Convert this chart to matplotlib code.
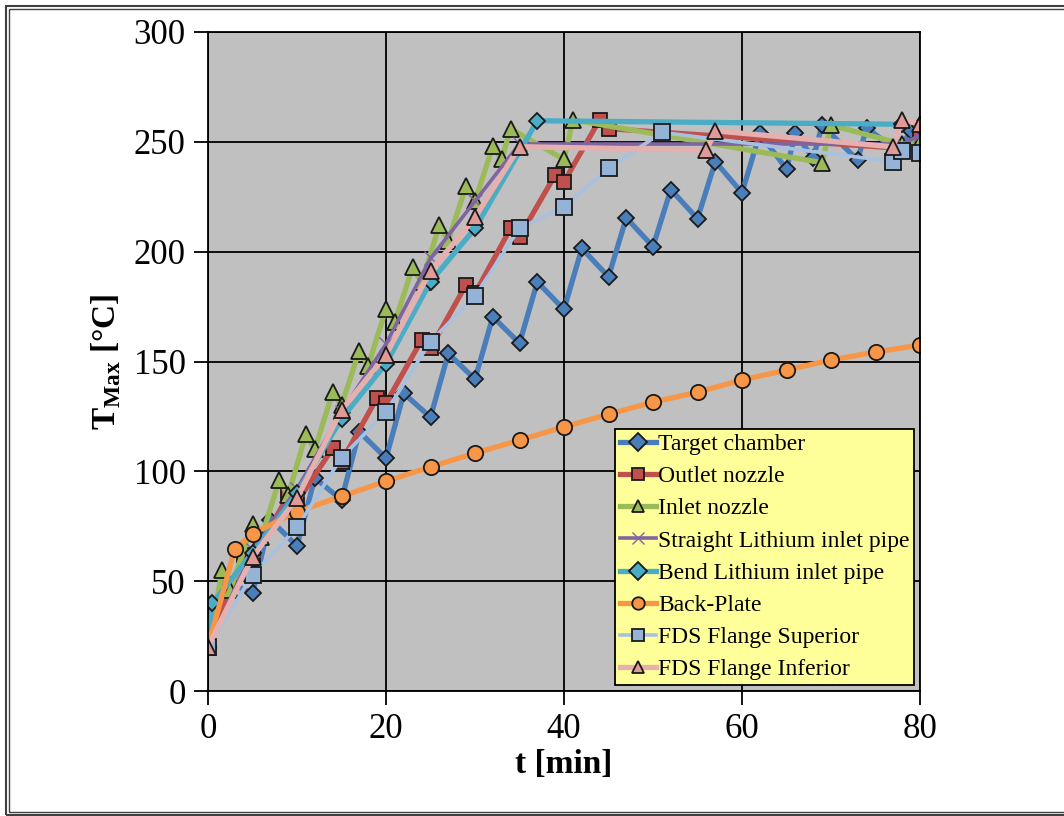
import numpy as np
import matplotlib.pyplot as plt
from matplotlib.patches import Rectangle

plt.rcParams['font.family'] = ['Liberation Serif', 'DejaVu Serif']
plt.rcParams['mathtext.fontset'] = 'custom'
plt.rcParams['mathtext.rm'] = 'Liberation Serif'
plt.rcParams['mathtext.bf'] = 'Liberation Serif:bold'

# --- data ---
target_t = [0, 2, 5, 7, 10, 12, 15, 17, 20, 22, 25, 27, 30, 32, 35, 37, 40, 42, 45, 47,
            50, 52, 55, 57, 60, 62, 65, 66, 68, 69, 73, 74, 77.5, 79, 80]
target_T = [20, 50, 44.5, 78, 66, 97, 87, 118, 106, 135.5, 124.6, 153.7, 141.9, 170.4, 158.3,
            186.2, 173.7, 201.5, 188.6, 215.4, 202.3, 228.3, 215, 241, 226.8, 253.8, 237.6,
            253.8, 242.5, 257.6, 241.7, 256.5, 245.5, 255, 250]

outlet_t = [0, 4, 5, 9, 10, 14, 15, 19, 20, 24, 25, 29, 30, 34, 35, 39, 40, 44, 45, 78, 80]
outlet_T = [20, 62, 60, 89, 86, 110.5, 104.4, 133.5, 131, 159.8, 156, 185, 181, 210.6, 206.8,
            234.9, 231.8, 260, 256, 247, 252]

inlet_t = [0, 1.6, 2.5, 5, 6, 8, 9, 11, 12, 14, 15, 17, 18, 20, 21, 23, 24, 26, 27, 29, 30,
           32, 33, 34, 40, 41, 69, 70, 78, 80]
inlet_T = [20, 55, 46, 76, 70, 96, 89, 117, 110, 136, 130, 155, 148, 174, 168, 193, 186, 212,
           205, 230, 223, 248, 242, 256, 242, 260, 240.5, 257.6, 249, 250]

straight_t = [0, 5, 10, 15, 20, 25, 30, 35, 78, 80]
straight_T = [20, 64, 92, 127, 158, 197, 223, 249, 249, 253]

bend_t = [0, 0.5, 5, 10, 15, 20, 25, 30, 37, 78, 80]
bend_T = [20, 40, 63, 90, 124, 149, 186.3, 210.6, 259.6, 258, 257]

back_t = [0, 3, 5, 10, 15, 20, 25, 30, 35, 40, 45, 50, 55, 60, 65, 70, 75, 80]
back_T = [20, 64.5, 71.6, 81.6, 88.6, 95.5, 102, 108.3, 114.2, 120.2, 126, 131.5, 136,
          141.6, 146.1, 150.7, 154.3, 157.5]

sup_t = [0, 5, 10, 15, 20, 25, 30, 35, 40, 45, 51, 77, 78, 80]
sup_T = [20, 52.8, 74.5, 106.2, 127.1, 159, 179.8, 210.6, 220.4, 237.9, 254.3, 241, 245.8, 244.7]

inf_t = [0, 5, 10, 15, 20, 25, 30, 35, 56, 57, 77, 78, 80]
inf_T = [20, 61, 87.7, 127.9, 152.9, 191.2, 215.6, 247.8, 246.2, 255, 247.7, 260, 258]

labels = ['Target chamber', 'Outlet nozzle', 'Inlet nozzle', 'Straight Lithium inlet pipe',
          'Bend Lithium inlet pipe', 'Back-Plate', 'FDS Flange Superior', 'FDS Flange Inferior']

fig = plt.figure(figsize=(10.64, 8.16), dpi=100)
ax = fig.add_axes([208 / 1064, 1 - 691 / 816, 712 / 1064, 659 / 816])
ax.set_facecolor('#C0C0C0')

ms = 10
lw = 3.8
ax.plot(target_t, target_T, '-D', color='#4A7EBB', lw=lw, ms=8.5, mfc='#4A7EBB', mec='#1a1a1a', mew=1.3, label=labels[0])
ax.plot(outlet_t, outlet_T, '-s', color='#C0504D', lw=lw, ms=ms, mfc='#C0504D', mec='#1a1a1a', mew=1.3, label=labels[1])
ax.plot(inlet_t, inlet_T, '-^', color='#9BBB59', lw=lw, ms=ms + 1, mfc='#9BBB59', mec='#1a1a1a', mew=1.3, label=labels[2])
ax.plot(straight_t, straight_T, '-x', color='#8064A2', lw=2.6, ms=ms, mec='#8064A2', mew=1.0, label=labels[3])
ax.plot(bend_t, bend_T, '-D', color='#4BACC6', lw=lw, ms=8.5, mfc='#4BACC6', mec='#1a1a1a', mew=1.3, label=labels[4])
ax.plot(back_t, back_T, '-o', color='#F79646', lw=lw, ms=ms + 1, mfc='#F79646', mec='#1a1a1a', mew=1.3, label=labels[5])
ax.plot(sup_t, sup_T, '-s', color='#A9C1E0', lw=2.6, ms=ms + 1, mfc='#95B3D7', mec='#1a1a1a', mew=1.3, label=labels[6])
ax.plot(inf_t, inf_T, '-^', color='#E6B0AF', lw=lw, ms=ms + 1, mfc='#E09A98', mec='#1a1a1a', mew=1.3, label=labels[7])

ax.set_xlim(0, 80)
ax.set_ylim(0, 300)
ax.set_xticks(np.arange(0, 81, 20))
ax.set_yticks(np.arange(0, 301, 50))
ax.grid(True, color='black', lw=1.3)
ax.set_axisbelow(True)
for s in ax.spines.values():
    s.set_linewidth(1.3)
ax.tick_params(direction='out', length=10, width=1.3, labelsize=25, pad=6)
ax.set_xlabel('t [min]', fontsize=24, fontweight='bold', labelpad=2)
ax.set_ylabel(r'T$_{\mathbf{Max}}$ [°C]', fontsize=24, fontweight='bold', labelpad=8)

leg = ax.legend(loc='lower right', bbox_to_anchor=(0.9985, 0.002), fontsize=17, frameon=True,
                fancybox=False, edgecolor='black', facecolor='#FFFF99', framealpha=1,
                handlelength=1.5, handletextpad=0.1, borderpad=0.2, labelspacing=0.45,
                borderaxespad=0.2)
leg.get_frame().set_linewidth(1.3)
for h in leg.legend_handles:
    h.set_markersize(9)

# double frame around the figure
fig.patches.append(Rectangle((6 / 1064, 1 / 816), 1070 / 1064, 809 / 816, transform=fig.transFigure,
                             fill=False, edgecolor='#404040', lw=1.5))
fig.patches.append(Rectangle((9 / 1064, 4 / 816), 1070 / 1064, 803 / 816, transform=fig.transFigure,
                             fill=False, edgecolor='#404040', lw=1.0))

fig.savefig('out.png', dpi=100)
